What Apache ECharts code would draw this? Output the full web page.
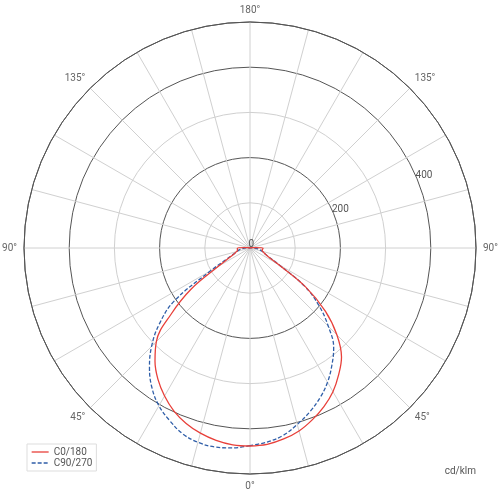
<!DOCTYPE html>
<html>
<head>
<meta charset="utf-8">
<script src="https://cdn.jsdelivr.net/npm/echarts@6/dist/echarts.min.js"></script>
<style>html,body{margin:0;padding:0;background:#fff}#c{width:500px;height:496px}</style>
</head>
<body>
<div id="c"></div>
<script>
// gamma angles (degrees from nadir)
const gammas = [0,5,10,15,20,25,30,35,40,45,50,55,60,65,70,75,80,85,90,95,100,105,110,115,120,125,130,135,140,145,150,155,160,165,170,175,180];
// C0/180 plane (cd/klm)
const c0   = [438,437,432,424,413,398,378,355,327,293,228,160,80,50,37,31,28,28,28,12,3,0,0,0,0,0,0,0,0,0,0,0,0,0,0,0,0];
const c180 = [438,436,429,419,404,387,367,342,315,272,218,150,72,44,34,29,27,28,29,12,3,0,0,0,0,0,0,0,0,0,0,0,0,0,0,0,0];
// C90/270 plane (cd/klm)
const c90  = [437,444,447,445,437,421,403,378,346,308,262,205,100,55,38,30,24,18,12,5,0,0,0,0,0,0,0,0,0,0,0,0,0,0,0,0,0];
const c270 = [437,431,421,404,386,366,343,316,288,245,200,148,75,44,34,28,22,16,10,4,0,0,0,0,0,0,0,0,0,0,0,0,0,0,0,0,0];
const seriesNames = ['C0/180','C90/270'];
const radiusLabels = [0,200,400];
const angleLabelStep = 45;

function loop(left, right){
  const d = [];
  for (let i = 0; i < gammas.length; i++) d.push([left[i], gammas[i]]);
  for (let i = gammas.length - 1; i >= 0; i--) d.push([right[i], 360 - gammas[i]]);
  return d;
}

const FONT = 'Roboto, "Liberation Sans", sans-serif';
const chart = echarts.init(document.getElementById('c'), null, {renderer:'canvas'});
chart.setOption({
  animation:false,
  backgroundColor:'#fff',
  textStyle:{fontFamily:FONT},
  title:{text:'cd/klm', right:24, bottom:20, padding:0,
    textStyle:{fontSize:10, fontWeight:'normal', color:'#555', fontFamily:FONT}},
  legend:{
    orient:'vertical', left:27, top:444, padding:[3,4], itemGap:1,
    itemWidth:17, itemHeight:10, borderColor:'#ddd', borderWidth:1,
    itemStyle:{opacity:0, borderWidth:0},
    lineStyle:{type:'inherit', width:1.3},
    textStyle:{fontSize:10, color:'#555', fontFamily:FONT},
    data:seriesNames
  },
  polar:[
    {center:[250,248], radius:226},
    {center:[250,248], radius:226}
  ],
  angleAxis:[
    {polarIndex:0, type:'value', min:0, max:360, interval:15, startAngle:-90, clockwise:true,
     axisLine:{show:true, lineStyle:{color:'#555', width:1}},
     axisTick:{show:false},
     splitLine:{show:true, lineStyle:{color:'#d0d0d0', width:1}},
     axisLabel:{margin:7, fontSize:10, color:'#666', fontFamily:FONT,
       formatter:function(v){
         if (v % angleLabelStep !== 0 || v >= 360) return '';
         return (v <= 180 ? v : 360 - v) + '°';
       }}
    },
    {polarIndex:1, type:'value', min:0, max:360, startAngle:22.5, show:false}
  ],
  radiusAxis:[
    {polarIndex:0, type:'value', min:0, max:500, interval:100,
     axisLine:{show:false}, axisTick:{show:false}, axisLabel:{show:false},
     splitLine:{show:true, lineStyle:{color:['#d0d0d0','#d0d0d0','#555','#d0d0d0','#555','#555'], width:1}}
    },
    {polarIndex:1, type:'value', min:0, max:500, interval:100,
     axisLine:{show:false}, axisTick:{show:false}, splitLine:{show:false},
     axisLabel:{show:true, margin:4, align:'left', verticalAlign:'middle', fontSize:10, color:'#555', fontFamily:FONT,
       formatter:function(v){ return radiusLabels.indexOf(v) >= 0 ? String(v) : ''; }}
    }
  ],
  series:[
    {name:seriesNames[0], type:'line', coordinateSystem:'polar', polarIndex:0,
     symbol:'none', smooth:0.4, data:loop(c0, c180),
     lineStyle:{color:'#e8403a', width:1.3, type:'solid'}, itemStyle:{color:'#e8403a'}, z:3},
    {name:seriesNames[1], type:'line', coordinateSystem:'polar', polarIndex:0,
     symbol:'none', smooth:0.4, data:loop(c90, c270),
     lineStyle:{color:'#2f5ea8', width:1.3, type:[4,2]}, itemStyle:{color:'#2f5ea8'}, z:2}
  ]
});
</script>
</body>
</html>
